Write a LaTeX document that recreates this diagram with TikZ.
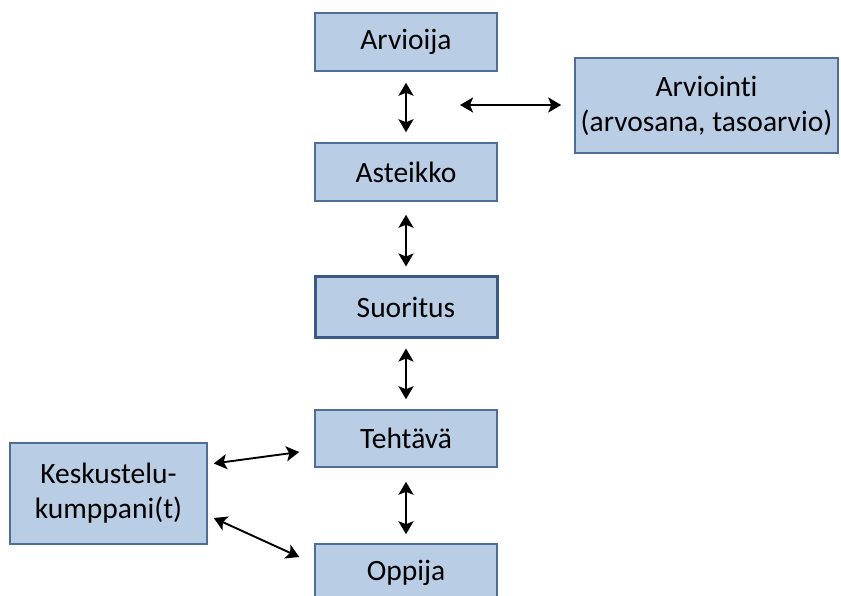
\documentclass[tikz,border=0pt]{standalone}
\usepackage{fontspec}
\setmainfont[Ligatures=NoCommon]{Carlito}
\usepackage{xcolor}
\usetikzlibrary{arrows.meta,positioning,calc}

\definecolor{boxfill}{HTML}{B9CDE5}
\definecolor{boxline}{HTML}{4F6E96}
\definecolor{boxdark}{HTML}{3A5A85}

\begin{document}
\begin{tikzpicture}[x=1pt, y=-1pt,
    every node/.style={font=\fontsize{29.5}{35}\selectfont, align=center},
    box/.style={draw=boxline, line width=1.5pt, fill=boxfill, minimum width=182pt, minimum height=58pt, inner sep=2pt},
    biarrow/.style={line width=2.3pt, {Stealth[length=13pt,width=15pt,inset=3pt]}-{Stealth[length=13pt,width=15pt,inset=3pt]}}]
    \useasboundingbox (0,0) rectangle (841,596);

    % Boxes (middle column)
    \node[box] (arvioija) at (406,42) {Arvioija};
    \node[box] (asteikko) at (406,172) {Asteikko};
    \node[box, draw=boxdark, line width=3pt, minimum height=60pt] (suoritus) at (406,307) {Suoritus};
    \node[box, minimum height=57pt] (tehtava) at (406,438.5) {Tehtävä};
    \node[box] (oppija) at (406,573) {Oppija};

    % Side boxes
    \node[box, minimum width=263pt, minimum height=95pt] (arviointi) at (706.5,105.5) {Arviointi\\(arvosana, tasoarvio)};
    \node[box, minimum width=197pt, minimum height=101pt] (kumppani) at (108.5,493.5) {Keskustelu-\\kumppani(t)};

    % Arrows
    \draw[biarrow, shorten <=11pt, shorten >=10pt] (arvioija) -- (asteikko);
    \draw[biarrow, shorten <=13pt, shorten >=9pt] (asteikko) -- (suoritus);
    \draw[biarrow, shorten <=10pt, shorten >=10pt] (suoritus) -- (tehtava);
    \draw[biarrow, shorten <=14pt, shorten >=9pt] (tehtava) -- (oppija);

    \coordinate (arvleft) at (460,105);
    \draw[biarrow, line width=1.9pt, shorten >=13pt] (arvleft) -- (arvleft -| arviointi.west);

    \draw[biarrow, line width=1.9pt] ([shift={(6,-30)}]kumppani.east) -- ([shift={(-15,13.5)}]tehtava.west);
    \draw[biarrow, line width=1.9pt] ([shift={(6,24.5)}]kumppani.east) -- ([shift={(-15,-16)}]oppija.west);
\end{tikzpicture}
\end{document}
